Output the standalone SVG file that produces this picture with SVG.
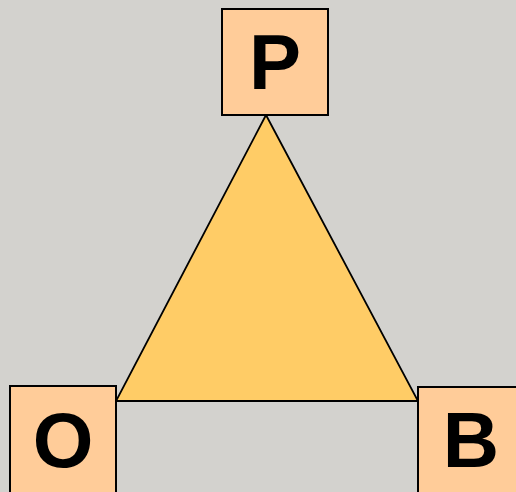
<svg xmlns="http://www.w3.org/2000/svg" width="516" height="492" viewBox="0 0 516 492">
<style>
.box{fill:#FFCC99;stroke:#000;stroke-width:2}
.lbl{font-family:"Liberation Sans",Arial,sans-serif;font-weight:bold;font-size:78px;fill:#000;text-anchor:middle}
</style>
<rect width="516" height="492" fill="#D3D2CE"/>
<g id="connectors">
<polygon points="266,115 116,401 418,401" fill="#FFCC66" stroke="#000" stroke-width="1.8" stroke-linejoin="miter"/>
</g>
<g id="node-P">
<rect class="box" x="222" y="9" width="106" height="106"/>
<text class="lbl" x="275" y="89">P</text>
</g>
<g id="node-O">
<rect class="box" x="10" y="386" width="106" height="108"/>
<text class="lbl" x="63" y="467">O</text>
</g>
<g id="node-B">
<rect class="box" x="418" y="387" width="106" height="108"/>
<text class="lbl" x="471" y="467">B</text>
</g>
</svg>
